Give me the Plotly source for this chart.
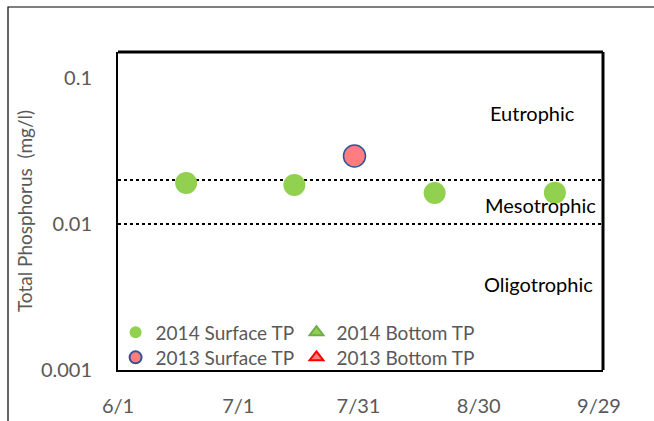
import plotly.graph_objects as go

# ---- data ----
surf2014_dates = ["2014-06-18", "2014-07-15", "2014-08-19", "2014-09-18"]
surf2014_tp = [0.0191, 0.0185, 0.0163, 0.0164]
surf2013_dates = ["2014-07-30"]
surf2013_tp = [0.0292]
bottom2014_dates = []
bottom2014_tp = []
bottom2013_dates = []
bottom2013_tp = []

x_tickvals = ["2014-06-01", "2014-07-01", "2014-07-31", "2014-08-30", "2014-09-29"]
x_ticktext = ["6/1", "7/1", "7/31", "8/30", "9/29"]
y_tickvals = [0.001, 0.01, 0.1]
y_ticktext = ["0.001", "0.01", "0.1"]
thresholds = [0.01, 0.02]
zone_labels = ["Eutrophic", "Mesotrophic", "Oligotrophic"]

FONT = "Lato"
GRAY = "#595959"
GREEN = "#92D050"
PINK = "#FF7C80"

fig = go.Figure()

fig.add_trace(go.Scatter(
    x=surf2014_dates, y=surf2014_tp, mode="markers", name="2014 Surface TP",
    marker=dict(symbol="circle", size=22, color=GREEN, line=dict(width=0)),
    legend="legend"))
fig.add_trace(go.Scatter(
    x=bottom2014_dates or [None], y=bottom2014_tp or [None], mode="markers", name="2014 Bottom TP",
    marker=dict(symbol="triangle-up", size=14, color=GREEN, line=dict(width=1, color="#70AD47")),
    legend="legend2"))
fig.add_trace(go.Scatter(
    x=surf2013_dates, y=surf2013_tp, mode="markers", name="2013 Surface TP",
    marker=dict(symbol="circle", size=22, color=PINK, line=dict(width=1.5, color="#2F5597")),
    legend="legend3"))
fig.add_trace(go.Scatter(
    x=bottom2013_dates or [None], y=bottom2013_tp or [None], mode="markers", name="2013 Bottom TP",
    marker=dict(symbol="triangle-up", size=14, color=PINK, line=dict(width=1.5, color="#FF0000")),
    legend="legend4"))

# threshold lines (dotted)
for t in thresholds:
    fig.add_shape(type="line", xref="paper", x0=0, x1=1, yref="y", y0=t, y1=t,
                  line=dict(color="black", width=2, dash="dot"), layer="below")

# zone labels
zone_pos = [(0.854, 0.808), (0.871, 0.519), (0.868, 0.270)]
for lab, (px, py) in zip(zone_labels, zone_pos):
    fig.add_annotation(text=lab, xref="paper", yref="paper", x=px, y=py,
                       showarrow=False, font=dict(family=FONT, size=20, color="black"),
                       xanchor="center", yanchor="middle")

# plot border top / right thick
fig.add_shape(type="line", xref="paper", yref="paper", x0=0, x1=1, y0=1, y1=1,
              line=dict(color="black", width=3))
fig.add_shape(type="line", xref="paper", yref="paper", x0=1, x1=1, y0=0, y1=1,
              line=dict(color="black", width=3))
# outer chart frame
fig.add_shape(type="rect", xref="paper", yref="paper", x0=-0.2268, x1=1.3, y0=-0.3, y1=1.1415,
              line=dict(color="black", width=1.2), fillcolor="rgba(0,0,0,0)")

leg_common = dict(xanchor="left", yanchor="top", orientation="v",
                  itemsizing="constant", bgcolor="rgba(0,0,0,0)",
                  font=dict(family=FONT, size=19, color=GRAY), traceorder="normal")

fig.update_layout(
    width=654, height=421,
    margin=dict(l=118, r=51, t=52, b=51, autoexpand=False),
    paper_bgcolor="white", plot_bgcolor="white",
    font=dict(family=FONT, size=20, color=GRAY),
    showlegend=True,
    legend=dict(x=-0.005, y=0.178, **leg_common),
    legend2=dict(x=0.368, y=0.178, **leg_common),
    legend3=dict(x=-0.005, y=0.099, **leg_common),
    legend4=dict(x=0.368, y=0.099, **leg_common),
    xaxis=dict(type="date", range=["2014-06-01", "2014-09-30"],
               tickvals=x_tickvals, ticktext=x_ticktext, automargin=False,
               showgrid=False, zeroline=False,
               showline=True, linecolor="black", linewidth=2,
               ticks="outside", ticklen=17, tickcolor="rgba(0,0,0,0)",
               tickfont=dict(family=FONT, size=20, color=GRAY)),
    yaxis=dict(type="log", range=[-3, -0.822],
               tickvals=y_tickvals, ticktext=y_ticktext, automargin=False,
               showgrid=False, zeroline=False,
               showline=True, linecolor="black", linewidth=2,
               ticks="outside", ticklen=20, tickcolor="rgba(0,0,0,0)",
               tickfont=dict(family=FONT, size=20, color=GRAY),
               title=dict(text="Total Phosphorus  (mg/l)", standoff=3,
                          font=dict(family=FONT, size=19, color=GRAY))),
)

fig.write_html("out.html", config={"displayModeBar": False},
               post_script="document.body.style.margin='0';")
